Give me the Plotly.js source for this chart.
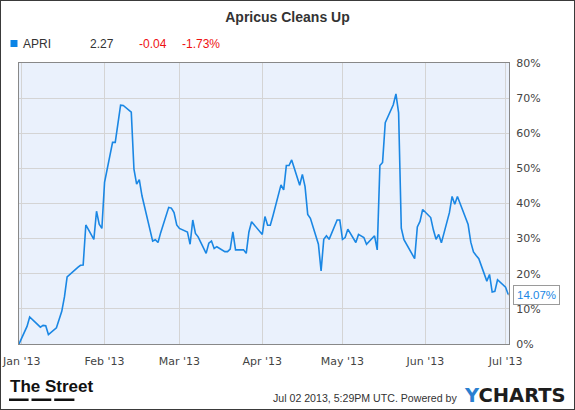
<!DOCTYPE html>
<html>
<head>
<meta charset="utf-8">
<script src="https://cdn.plot.ly/plotly-3.0.1.min.js"></script>
<style>
  html, body { margin: 0; padding: 0; background: #fff; }
  #wrap { position: relative; width: 575px; height: 410px; }
  #chart { width: 575px; height: 410px; }
  #frame { position: absolute; left: 0; top: 0; width: 575px; height: 410px; box-sizing: border-box; border: 1px solid #3a3a3a; pointer-events: none; }
</style>
</head>
<body>
<div id="wrap"><div id="chart"></div><div id="frame"></div></div>
<script>
// ---- data ----
const chartTitle = "Apricus Cleans Up";
const ticker = "APRI";
const lastPrice = "2.27";
const priceChange = "-0.04";
const pctChange = "-1.73%";
const stampText = "Jul 02 2013, 5:29PM UTC. Powered by";

const dates = [
  "2012-12-31",
  "2013-01-02","2013-01-03","2013-01-04","2013-01-07","2013-01-08","2013-01-09","2013-01-10","2013-01-11",
  "2013-01-14","2013-01-15","2013-01-16","2013-01-17","2013-01-18","2013-01-22","2013-01-23","2013-01-24","2013-01-25",
  "2013-01-28","2013-01-29","2013-01-30","2013-01-31","2013-02-01",
  "2013-02-04","2013-02-05","2013-02-06","2013-02-07","2013-02-08",
  "2013-02-11","2013-02-12","2013-02-13","2013-02-14","2013-02-15",
  "2013-02-19","2013-02-20","2013-02-21","2013-02-22",
  "2013-02-25","2013-02-26","2013-02-27","2013-02-28","2013-03-01",
  "2013-03-04","2013-03-05","2013-03-06","2013-03-07","2013-03-08",
  "2013-03-11","2013-03-12","2013-03-13","2013-03-14","2013-03-15",
  "2013-03-18","2013-03-19","2013-03-20","2013-03-21","2013-03-22",
  "2013-03-25","2013-03-26","2013-03-27","2013-03-28",
  "2013-04-01","2013-04-02","2013-04-03","2013-04-04","2013-04-05",
  "2013-04-08","2013-04-09","2013-04-10","2013-04-11","2013-04-12",
  "2013-04-15","2013-04-16","2013-04-17","2013-04-18","2013-04-19",
  "2013-04-22","2013-04-23","2013-04-24","2013-04-25","2013-04-26",
  "2013-04-29","2013-04-30","2013-05-01","2013-05-02","2013-05-03",
  "2013-05-06","2013-05-07","2013-05-08","2013-05-09","2013-05-10",
  "2013-05-13","2013-05-14","2013-05-15","2013-05-16","2013-05-17",
  "2013-05-20","2013-05-21","2013-05-22","2013-05-23","2013-05-24",
  "2013-05-28","2013-05-29","2013-05-30","2013-05-31",
  "2013-06-03","2013-06-04","2013-06-05","2013-06-06","2013-06-07",
  "2013-06-10","2013-06-11","2013-06-12","2013-06-13","2013-06-14",
  "2013-06-17","2013-06-18","2013-06-19","2013-06-20","2013-06-21",
  "2013-06-24","2013-06-25","2013-06-26","2013-06-27","2013-06-28",
  "2013-07-01","2013-07-02"
];
const pctValues = [
  0,
  3.1,5.0,7.7,5.6,4.8,5.3,5.2,2.7,
  4.6,7.0,9.3,13.4,19.1,21.8,22.4,22.5,33.9,
  29.8,37.8,34.1,32.9,46.0,
  57.4,57.4,62.7,68.0,67.9,
  66.0,49.8,45.5,46.8,42.2,
  29.3,29.7,28.9,31.7,
  38.9,38.7,37.4,33.9,32.9,
  31.9,28.4,35.3,31.5,30.5,
  25.8,28.7,29.3,27.2,27.7,
  26.3,26.3,27.0,31.9,26.8,
  26.8,25.8,31.9,34.8,
  31.2,36.3,33.8,33.8,36.5,
  45.3,43.9,50.8,50.8,52.4,
  45.2,48.3,44.8,36.9,35.8,
  28.4,20.8,29.8,30.8,29.8,
  35.3,35.3,29.8,30.3,32.7,
  28.9,31.2,30.8,30.3,28.4,
  30.8,26.8,50.8,51.7,63.0,
  68.1,71.2,65.8,33.0,29.7,
  24.3,33.3,34.9,38.3,
  36.0,32.5,29.8,31.2,28.8,
  37.4,42.0,39.8,42.0,40.0,
  34.0,29.0,26.2,25.2,24.3,
  17.9,19.8,14.8,15.0,18.3,
  16.2,14.07
];
const yTicks = [0,10,20,30,40,50,60,70,80];
const yTickText = ["0%","10%","20%","30%","40%","50%","60%","70%","80%"];

// ---- layout helpers (pixel -> paper) ----
const L = 19, T = 63, W = 490, H = 281;
const fx = p => (p - L) / W;
const fy = p => (T + H - p) / H;

const lineBlue = "#1a87e4";
const lastDate = dates[dates.length - 1];
const lastVal = pctValues[pctValues.length - 1];

const trace = {
  type: "scatter", mode: "lines",
  x: dates, y: pctValues,
  line: { color: lineBlue, width: 1.6 },
  hoverinfo: "skip", showlegend: false
};

const legendFont = { family: "Liberation Sans, Arial, sans-serif", size: 12, color: "#333" };
const redFont = { family: "Liberation Sans, Arial, sans-serif", size: 12, color: "#ee1111" };

const annotations = [
  { xref: "paper", yref: "paper", x: fx(21), y: fy(44), xanchor: "left", yanchor: "middle", text: ticker, showarrow: false, font: legendFont },
  { xref: "paper", yref: "paper", x: fx(88), y: fy(44), xanchor: "left", yanchor: "middle", text: lastPrice, showarrow: false, font: legendFont },
  { xref: "paper", yref: "paper", x: fx(137), y: fy(44), xanchor: "left", yanchor: "middle", text: priceChange, showarrow: false, font: redFont },
  { xref: "paper", yref: "paper", x: fx(179.5), y: fy(44), xanchor: "left", yanchor: "middle", text: pctChange, showarrow: false, font: redFont },
  { xref: "x", yref: "y", x: lastDate, y: lastVal, xanchor: "left", yanchor: "middle", xshift: 5,
    text: lastVal.toFixed(2) + "%", showarrow: false, bgcolor: "#ffffff", bordercolor: "#9a9a9a", borderwidth: 1, borderpad: 3,
    font: { family: "Liberation Sans, Arial, sans-serif", size: 11.5, color: lineBlue } },
  { xref: "paper", yref: "paper", x: fx(8), y: fy(386.5), xanchor: "left", yanchor: "middle", text: "<b>The Street</b>", showarrow: false,
    font: { family: "Liberation Sans Narrow, Arial Narrow, sans-serif", size: 17, color: "#111" } },
  { xref: "paper", yref: "paper", x: fx(459), y: fy(397.5), xanchor: "right", yanchor: "middle", text: stampText, showarrow: false,
    font: { family: "Liberation Sans, Arial, sans-serif", size: 10.6, color: "#333" } },
  { xref: "paper", yref: "paper", x: fx(462), y: fy(395.5), xanchor: "left", yanchor: "middle",
    text: "<b><span style='color:#2a7fd0'>Y</span>CHARTS</b>", showarrow: false,
    font: { family: "DejaVu Sans, sans-serif", size: 19.5, color: "#1d1d1d" } }
];

const shapes = [
  { type: "rect", xref: "paper", yref: "paper", x0: fx(10.5), x1: fx(17.5), y0: fy(40), y1: fy(47), line: { width: 0 }, fillcolor: "#0a84e6" },
  { type: "rect", xref: "paper", yref: "paper", x0: fx(9), x1: fx(28.6), y0: fy(398.5), y1: fy(401), line: { width: 0 }, fillcolor: "#111" },
  { type: "rect", xref: "paper", yref: "paper", x0: fx(31.5), x1: fx(51.3), y0: fy(398.5), y1: fy(401), line: { width: 0 }, fillcolor: "#111" },
  { type: "rect", xref: "paper", yref: "paper", x0: fx(54.2), x1: fx(74.4), y0: fy(398.5), y1: fy(401), line: { width: 0 }, fillcolor: "#111" },
  { type: "path", xref: "x", yref: "y", xsizemode: "pixel", ysizemode: "pixel", xanchor: lastDate, yanchor: lastVal,
    path: "M 0 0 L 6 5 L 6 -5 Z", line: { color: "#9a9a9a", width: 1 }, fillcolor: "#ffffff", layer: "above" }
];

const layout = {
  width: 575, height: 410,
  margin: { l: L, r: 575 - L - W, t: T, b: 410 - T - H, pad: 0 },
  paper_bgcolor: "#ffffff",
  plot_bgcolor: "#eaf1fc",
  title: { text: chartTitle, x: 0.5, xref: "container", xanchor: "center", y: 1 - 17.5 / 410, yanchor: "middle",
    font: { family: "Liberation Sans, Arial, sans-serif", size: 14, color: "#333", weight: "bold" } },
  showlegend: false,
  xaxis: {
    type: "date",
    range: ["2012-12-31", "2013-07-02 07:00"],
    dtick: "M1", tick0: "2013-01-01",
    tickformat: "%b '%y",
    showgrid: true, gridcolor: "#d4d4d4", gridwidth: 1,
    showline: true, linecolor: "#888", linewidth: 1, mirror: true,
    ticks: "", ticklabelstandoff: 7,
    zeroline: false,
    tickfont: { family: "DejaVu Sans, sans-serif", size: 11, color: "#444" },
    fixedrange: true
  },
  yaxis: {
    side: "right",
    range: [0, 80],
    tickmode: "array",
    tickvals: yTicks,
    ticktext: yTickText,
    showgrid: true, gridcolor: "#d4d4d4", gridwidth: 1,
    showline: true, linecolor: "#888", linewidth: 1, mirror: true,
    ticks: "", ticklabelstandoff: 4,
    zeroline: false,
    tickfont: { family: "DejaVu Sans, sans-serif", size: 11, color: "#444" },
    fixedrange: true
  },
  annotations: annotations,
  shapes: shapes
};

Plotly.newPlot("chart", [trace], layout, { displayModeBar: false, staticPlot: true });
</script>
</body>
</html>
